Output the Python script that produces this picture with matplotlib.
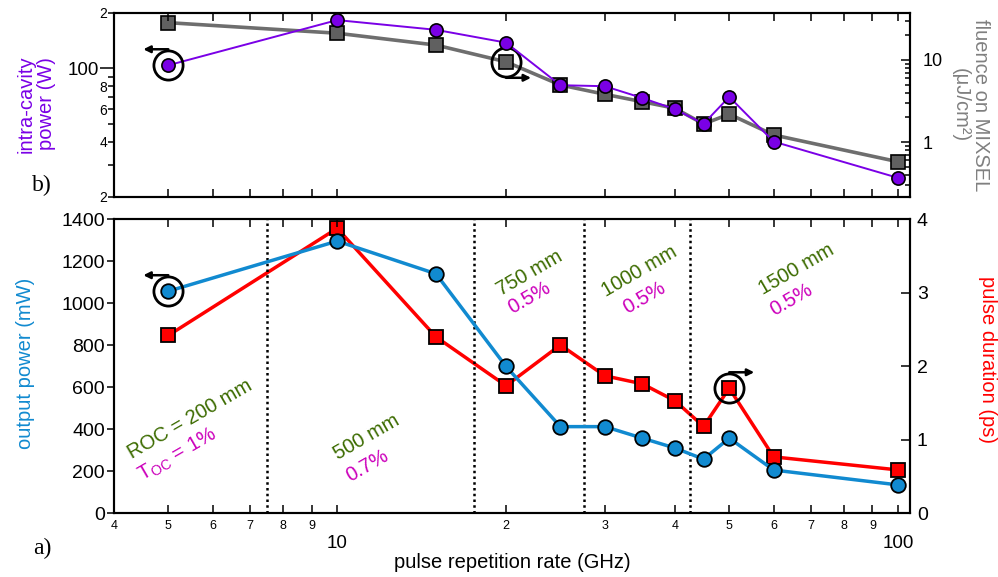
import numpy as np
import matplotlib
matplotlib.use('Agg')
import matplotlib.pyplot as plt
from matplotlib.ticker import LogLocator, FuncFormatter, MultipleLocator, NullFormatter
from matplotlib.transforms import offset_copy

plt.rcParams['font.family'] = ['Liberation Sans', 'DejaVu Sans']
plt.rcParams['mathtext.default'] = 'regular'

# ---- data ----
rate = [5, 10, 15, 20, 25, 30, 35, 40, 45, 50, 60, 100]            # GHz
intracavity_W = [104, 183, 162, 138, 81, 80, 69, 60, 50, 70, 40, 25.4]
fluence = [28.5, 21.2, 15.2, 9.5, 4.96, 3.82, 3.10, 2.58, 1.66, 2.19, 1.22, 0.575]
output_mW = [1058, 1297, 1141, 699, 412, 412, 357, 310, 257, 357, 205, 134]
pulse_ps = [2.42, 3.88, 2.40, 1.735, 2.29, 1.87, 1.76, 1.53, 1.18, 1.70, 0.765, 0.587]

cavity_bounds = [7.5, 17.5, 27.5, 42.5]    # dotted separators (GHz)

roc_labels = ['ROC = 200 mm', '500 mm', '750 mm', '1000 mm', '1500 mm']
roc_pos = [(5.46, 449), (11.3, 363), (22.0, 1142), (34.6, 1152), (65.8, 1162)]
toc_labels = [r'$T_{OC}$ = 1%', '0.7%', '0.5%', '0.5%', '0.5%']
toc_pos = [(5.2, 277), (11.3, 225), (22.0, 1025), (35.3, 1028), (64.5, 1018)]

c_purple = '#7a00e6'
c_gray = '#606060'
c_blue = '#118ad0'
c_red = '#ff0000'
c_green = '#3c6b00'
c_mag = '#cc00bb'


def lead_digit(v):
    e = np.floor(np.log10(v) + 1e-9)
    return int(round(v / 10 ** e))


def circ_arrow(ax, x, y, side, where):
    # ring around a point with a little tangent arrow
    ax.plot([x], [y], 'o', ms=21, mfc='none', mec='k', mew=2, zorder=6, clip_on=False)
    dx = -18 if side == 'left' else 18
    dy = 11.5 if where == 'top' else -11.5
    ax.annotate('', xy=(x, y), xycoords=offset_copy(ax.transData, fig=fig, x=dx, y=dy, units='points'),
                xytext=(x, y), textcoords=offset_copy(ax.transData, fig=fig, x=0, y=dy, units='points'),
                arrowprops=dict(arrowstyle='-|>', color='k', lw=1.8, mutation_scale=10,
                                shrinkA=0, shrinkB=0), zorder=6)


fig = plt.figure(figsize=(9.98, 5.77), dpi=100)

ax_b = fig.add_axes([0.1142, 0.1109, 0.7976, 0.5087])
ax_t = fig.add_axes([0.1142, 0.6586, 0.7976, 0.3189], sharex=ax_b)
ax_br = ax_b.twinx()
ax_tr = ax_t.twinx()

for a in (ax_b, ax_t, ax_br, ax_tr):
    for s in a.spines.values():
        s.set_linewidth(1.5)

# ------------ top panel -----------------
ax_t.set_zorder(ax_tr.get_zorder() + 1)
ax_t.patch.set_visible(False)
ax_tr.plot(rate, fluence, '-s', color='#6e6e6e', lw=2.6, ms=10, mfc=c_gray, mec='k', mew=1.2)
ax_t.plot(rate, intracavity_W, '-o', color=c_purple, lw=1.4, ms=9.5, mfc=c_purple, mec='k', mew=1.2)

ax_t.set_xscale('log')
ax_t.set_yscale('log')
ax_tr.set_yscale('log')
ax_t.set_xlim(4, 105)
ax_t.set_ylim(20, 200)
ax_tr.set_ylim(0.214, 37.4)

ax_t.yaxis.set_major_locator(LogLocator(base=10, numticks=10))
ax_t.yaxis.set_minor_locator(LogLocator(base=10, subs=np.arange(2, 10), numticks=20))
ax_t.yaxis.set_major_formatter(FuncFormatter(lambda v, p: '%g' % v))
ax_t.yaxis.set_minor_formatter(FuncFormatter(
    lambda v, p: str(lead_digit(v)) if lead_digit(v) in (2, 4, 6, 8) else ''))
ax_t.tick_params(axis='y', which='major', direction='out', length=10, width=1.1, labelsize=13.5, pad=1)
ax_t.tick_params(axis='y', which='minor', direction='out', length=4, width=1.1, labelsize=10, pad=1)
ax_t.tick_params(axis='x', which='both', direction='in', top=True, bottom=True,
                 labelbottom=False, length=6, width=1.1)

ax_tr.yaxis.set_major_locator(LogLocator(base=10, numticks=10))
ax_tr.yaxis.set_minor_locator(LogLocator(base=10, subs=np.arange(2, 10), numticks=20))
ax_tr.yaxis.set_major_formatter(FuncFormatter(lambda v, p: '%g' % v))
ax_tr.yaxis.set_minor_formatter(NullFormatter())
ax_tr.tick_params(axis='y', which='major', direction='in', length=6.5, width=1.1, labelsize=13, pad=9)
ax_tr.tick_params(axis='y', which='minor', direction='in', length=3.5, width=1.1)

circ_arrow(ax_t, rate[0], intracavity_W[0], 'left', 'top')
circ_arrow(ax_tr, rate[3], fluence[3], 'right', 'bottom')

# ------------ bottom panel -----------------
ax_b.set_zorder(ax_br.get_zorder() + 1)
ax_b.patch.set_visible(False)
for xb in cavity_bounds:
    ax_b.axvline(xb, color='k', ls=(0, (1, 1.3)), lw=1.8, zorder=1)
ax_br.plot(rate, pulse_ps, '-s', color=c_red, lw=2.5, ms=10.5, mfc=c_red, mec='k', mew=1.3)
ax_b.plot(rate, output_mW, '-o', color=c_blue, lw=2.5, ms=10.5, mfc=c_blue, mec='k', mew=1.3)

ax_b.set_ylim(0, 1400)
ax_br.set_ylim(0, 4)
ax_b.yaxis.set_major_locator(MultipleLocator(200))
ax_br.yaxis.set_major_locator(MultipleLocator(1))

ax_b.xaxis.set_major_locator(LogLocator(base=10, numticks=10))
ax_b.xaxis.set_minor_locator(LogLocator(base=10, subs=np.arange(2, 10), numticks=20))
ax_b.xaxis.set_major_formatter(FuncFormatter(lambda v, p: '%g' % v))
ax_b.xaxis.set_minor_formatter(FuncFormatter(lambda v, p: str(lead_digit(v))))
ax_b.tick_params(axis='x', which='both', direction='in', top=True, bottom=True, length=6, width=1.1)
ax_b.tick_params(axis='x', which='major', labelsize=13.5, pad=16)
ax_b.tick_params(axis='x', which='minor', labelsize=9, pad=5)
ax_b.tick_params(axis='y', direction='out', length=5, width=1.1, labelsize=14, pad=1.5)
ax_br.tick_params(axis='y', direction='in', length=6.5, width=1.1, labelsize=14, pad=5)

circ_arrow(ax_b, rate[0], output_mW[0], 'left', 'top')
circ_arrow(ax_br, rate[9], pulse_ps[9], 'right', 'top')

for txt, (x, y) in zip(roc_labels, roc_pos):
    ax_b.text(x, y, txt, color=c_green, fontsize=14.5, rotation=30, ha='center', va='center',
              rotation_mode='anchor')
for txt, (x, y) in zip(toc_labels, toc_pos):
    ax_b.text(x, y, txt, color=c_mag, fontsize=14.5, rotation=30, ha='center', va='center',
              rotation_mode='anchor')

# ------------ axis labels -----------------
fig.text(36 / 998, 1 - 104 / 577, 'intra-cavity\npower (W)', color=c_purple, fontsize=14.5,
         rotation=90, ha='center', va='center', linespacing=1.1)
fig.text(970 / 998, 1 - 105 / 577, 'fluence on MIXSEL\n(\u03bcJ/cm\u00b2)', color='#808080',
         fontsize=14.5, rotation=270, ha='center', va='center', linespacing=1.1)
fig.text(26 / 998, 1 - 363 / 577, 'output power (mW)', color=c_blue, fontsize=14.5,
         rotation=90, ha='center', va='center')
fig.text(987 / 998, 1 - 360 / 577, 'pulse duration (ps)', color=c_red, fontsize=14.5,
         rotation=270, ha='center', va='center')
fig.text(512 / 998, 1 - 563 / 577, 'pulse repetition rate (GHz)', fontsize=14.5,
         ha='center', va='center')

fig.text(42 / 998, 1 - 185 / 577, 'b)', family='Liberation Serif', fontsize=17, ha='center', va='center')
fig.text(42 / 998, 1 - 548 / 577, 'a)', family='Liberation Serif', fontsize=17, ha='center', va='center')

fig.savefig('out.png', dpi=100)
